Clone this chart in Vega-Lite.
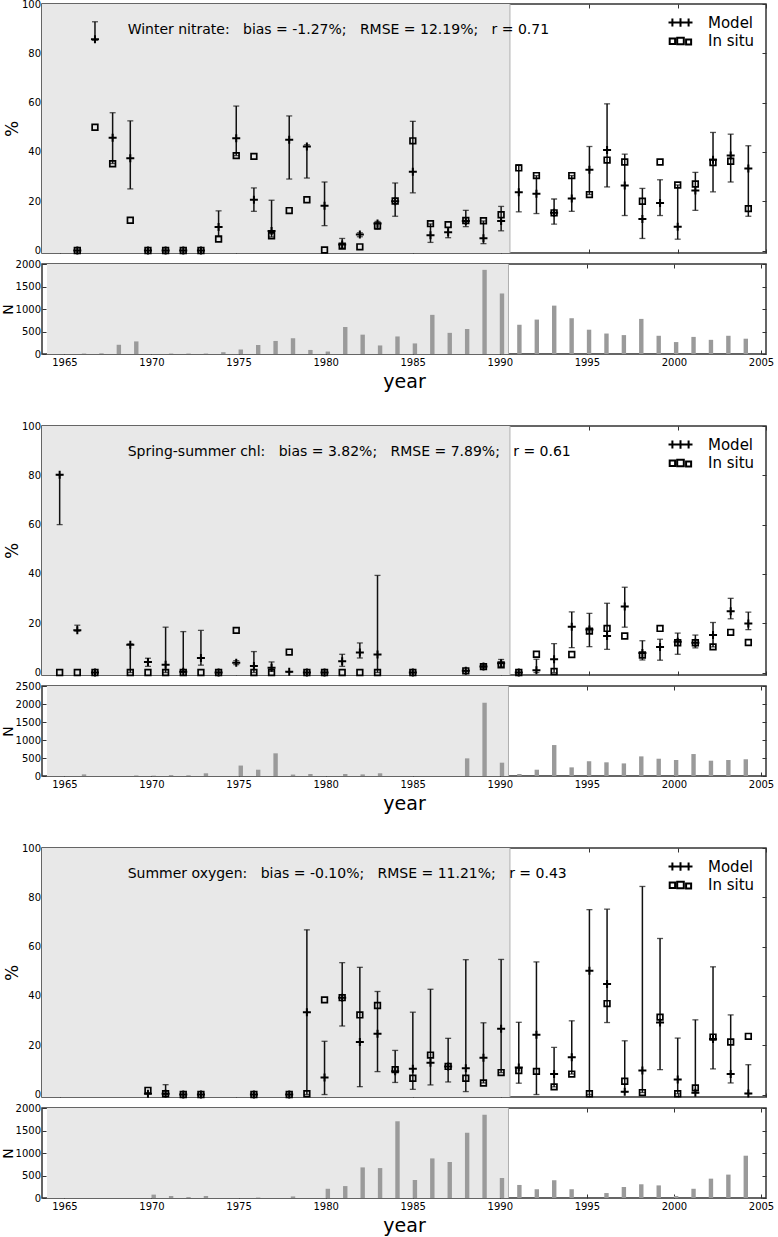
{
  "$schema": "https://vega.github.io/schema/vega-lite/v6.json",
  "padding": {"left": 0, "top": -2, "right": 0, "bottom": 0},
  "background": "white",
  "datasets": {
    "pct": [
      {"p":1,"year":1966,"Model":0,"In situ":0,"lo":0,"hi":0},
      {"p":1,"year":1967,"Model":85.7,"In situ":50.0,"lo":85.3,"hi":92.8},
      {"p":1,"year":1968,"Model":45.7,"In situ":35.2,"lo":35.3,"hi":55.9},
      {"p":1,"year":1969,"Model":37.4,"In situ":12.3,"lo":25.0,"hi":52.6},
      {"p":1,"year":1970,"Model":0,"In situ":0,"lo":0,"hi":0},
      {"p":1,"year":1971,"Model":0,"In situ":0,"lo":0,"hi":0},
      {"p":1,"year":1972,"Model":0,"In situ":0,"lo":0,"hi":0},
      {"p":1,"year":1973,"Model":0,"In situ":0,"lo":0,"hi":0},
      {"p":1,"year":1974,"Model":9.5,"In situ":4.7,"lo":5.5,"hi":16.1},
      {"p":1,"year":1975,"Model":45.5,"In situ":38.5,"lo":38.5,"hi":58.6},
      {"p":1,"year":1976,"Model":20.6,"In situ":38.2,"lo":15.9,"hi":25.4},
      {"p":1,"year":1977,"Model":7.9,"In situ":6.0,"lo":5.5,"hi":20.4},
      {"p":1,"year":1978,"Model":44.9,"In situ":16.2,"lo":29.0,"hi":54.6},
      {"p":1,"year":1979,"Model":42.2,"In situ":20.6,"lo":29.4,"hi":42.9},
      {"p":1,"year":1980,"Model":18.2,"In situ":0.2,"lo":10.1,"hi":27.8},
      {"p":1,"year":1981,"Model":2.4,"In situ":1.8,"lo":1.0,"hi":4.9},
      {"p":1,"year":1982,"Model":6.5,"In situ":1.5,"lo":5.6,"hi":7.2},
      {"p":1,"year":1983,"Model":11.0,"In situ":10.0,"lo":8.6,"hi":11.8},
      {"p":1,"year":1984,"Model":20.0,"In situ":20.1,"lo":13.9,"hi":27.4},
      {"p":1,"year":1985,"Model":32.0,"In situ":44.5,"lo":23.4,"hi":52.4},
      {"p":1,"year":1986,"Model":6.2,"In situ":10.9,"lo":3.3,"hi":10.8},
      {"p":1,"year":1987,"Model":7.4,"In situ":10.5,"lo":5.2,"hi":9.5},
      {"p":1,"year":1988,"Model":12.0,"In situ":12.2,"lo":9.7,"hi":16.3},
      {"p":1,"year":1989,"Model":5.0,"In situ":12.1,"lo":2.8,"hi":12.0},
      {"p":1,"year":1990,"Model":12.0,"In situ":14.5,"lo":8.0,"hi":17.9},
      {"p":1,"year":1991,"Model":23.6,"In situ":33.5,"lo":15.7,"hi":34.8},
      {"p":1,"year":1992,"Model":23.0,"In situ":30.4,"lo":15.0,"hi":30.4},
      {"p":1,"year":1993,"Model":15.3,"In situ":15.3,"lo":10.7,"hi":20.9},
      {"p":1,"year":1994,"Model":21.1,"In situ":30.4,"lo":15.9,"hi":30.4},
      {"p":1,"year":1995,"Model":32.8,"In situ":22.7,"lo":22.7,"hi":42.2},
      {"p":1,"year":1996,"Model":40.8,"In situ":36.7,"lo":25.8,"hi":59.5},
      {"p":1,"year":1997,"Model":26.4,"In situ":35.9,"lo":14.2,"hi":39.1},
      {"p":1,"year":1998,"Model":12.8,"In situ":20.0,"lo":4.9,"hi":25.2},
      {"p":1,"year":1999,"Model":19.3,"In situ":35.9,"lo":14.2,"hi":28.7},
      {"p":1,"year":2000,"Model":9.6,"In situ":26.6,"lo":4.6,"hi":26.6},
      {"p":1,"year":2001,"Model":24.4,"In situ":27.0,"lo":16.3,"hi":31.7},
      {"p":1,"year":2002,"Model":36.8,"In situ":35.7,"lo":23.8,"hi":47.9},
      {"p":1,"year":2003,"Model":38.5,"In situ":36.2,"lo":27.8,"hi":47.2},
      {"p":1,"year":2004,"Model":33.3,"In situ":17.0,"lo":13.9,"hi":42.5},
      {"p":2,"year":1965,"Model":80.2,"In situ":0,"lo":60.0,"hi":80.2},
      {"p":2,"year":1966,"Model":17.2,"In situ":0,"lo":16.8,"hi":19.2},
      {"p":2,"year":1967,"Model":0,"In situ":0,"lo":0,"hi":0},
      {"p":2,"year":1969,"Model":11.3,"In situ":0,"lo":0,"hi":11.6},
      {"p":2,"year":1970,"Model":4.3,"In situ":0,"lo":2.5,"hi":5.8},
      {"p":2,"year":1971,"Model":3.2,"In situ":0,"lo":0,"hi":18.4},
      {"p":2,"year":1972,"Model":0.3,"In situ":0,"lo":0,"hi":16.6},
      {"p":2,"year":1973,"Model":5.9,"In situ":0,"lo":3.0,"hi":17.1},
      {"p":2,"year":1974,"Model":0,"In situ":0,"lo":0,"hi":0},
      {"p":2,"year":1975,"Model":4.0,"In situ":17.1,"lo":3.2,"hi":4.8},
      {"p":2,"year":1976,"Model":2.7,"In situ":0,"lo":0,"hi":8.5},
      {"p":2,"year":1977,"Model":1.9,"In situ":0,"lo":0.5,"hi":4.3},
      {"p":2,"year":1978,"Model":0.3,"In situ":8.3,"lo":0.3,"hi":0.3},
      {"p":2,"year":1979,"Model":0,"In situ":0,"lo":0,"hi":0},
      {"p":2,"year":1980,"Model":0,"In situ":0,"lo":0,"hi":0},
      {"p":2,"year":1981,"Model":4.6,"In situ":0,"lo":2.5,"hi":7.4},
      {"p":2,"year":1982,"Model":8.1,"In situ":0,"lo":5.9,"hi":12.0},
      {"p":2,"year":1983,"Model":7.3,"In situ":0,"lo":0,"hi":39.4},
      {"p":2,"year":1985,"Model":0,"In situ":0,"lo":0,"hi":0},
      {"p":2,"year":1988,"Model":0.7,"In situ":0.7,"lo":0.7,"hi":0.7},
      {"p":2,"year":1989,"Model":2.4,"In situ":2.4,"lo":2.0,"hi":3.0},
      {"p":2,"year":1990,"Model":3.8,"In situ":3.1,"lo":2.5,"hi":5.3},
      {"p":2,"year":1991,"Model":0,"In situ":0,"lo":0,"hi":0},
      {"p":2,"year":1992,"Model":0.9,"In situ":7.4,"lo":0,"hi":5.4},
      {"p":2,"year":1993,"Model":5.4,"In situ":0.4,"lo":0,"hi":11.7},
      {"p":2,"year":1994,"Model":18.6,"In situ":7.3,"lo":10.1,"hi":24.6},
      {"p":2,"year":1995,"Model":17.5,"In situ":16.8,"lo":10.5,"hi":24.0},
      {"p":2,"year":1996,"Model":14.8,"In situ":17.9,"lo":9.4,"hi":28.1},
      {"p":2,"year":1997,"Model":26.8,"In situ":14.8,"lo":18.4,"hi":34.6},
      {"p":2,"year":1998,"Model":7.9,"In situ":7.1,"lo":5.1,"hi":12.9},
      {"p":2,"year":1999,"Model":10.4,"In situ":17.9,"lo":5.0,"hi":13.5},
      {"p":2,"year":2000,"Model":12.5,"In situ":12.1,"lo":7.4,"hi":16.0},
      {"p":2,"year":2001,"Model":12.1,"In situ":12.1,"lo":10.0,"hi":15.2},
      {"p":2,"year":2002,"Model":15.2,"In situ":10.4,"lo":10.4,"hi":20.3},
      {"p":2,"year":2003,"Model":24.9,"In situ":16.3,"lo":21.8,"hi":30.1},
      {"p":2,"year":2004,"Model":19.9,"In situ":12.2,"lo":17.4,"hi":24.5},
      {"p":3,"year":1970,"Model":0.3,"In situ":1.7,"lo":0.3,"hi":0.3},
      {"p":3,"year":1971,"Model":0.3,"In situ":0.3,"lo":0,"hi":4.0},
      {"p":3,"year":1972,"Model":0,"In situ":0,"lo":0,"hi":0},
      {"p":3,"year":1973,"Model":0,"In situ":0,"lo":0,"hi":0},
      {"p":3,"year":1976,"Model":0,"In situ":0,"lo":0,"hi":0},
      {"p":3,"year":1978,"Model":0,"In situ":0,"lo":0,"hi":0},
      {"p":3,"year":1979,"Model":33.4,"In situ":0.3,"lo":0,"hi":66.8},
      {"p":3,"year":1980,"Model":6.9,"In situ":38.4,"lo":0,"hi":21.6},
      {"p":3,"year":1981,"Model":39.3,"In situ":39.3,"lo":27.8,"hi":53.5},
      {"p":3,"year":1982,"Model":21.3,"In situ":32.3,"lo":3.2,"hi":51.6},
      {"p":3,"year":1983,"Model":24.7,"In situ":36.1,"lo":9.3,"hi":41.8},
      {"p":3,"year":1984,"Model":9.4,"In situ":10.1,"lo":4.9,"hi":17.9},
      {"p":3,"year":1985,"Model":10.5,"In situ":6.6,"lo":2.1,"hi":33.4},
      {"p":3,"year":1986,"Model":12.9,"In situ":16.0,"lo":3.9,"hi":42.7},
      {"p":3,"year":1987,"Model":11.4,"In situ":11.4,"lo":5.1,"hi":22.8},
      {"p":3,"year":1988,"Model":10.7,"In situ":6.6,"lo":1.2,"hi":54.7},
      {"p":3,"year":1989,"Model":14.9,"In situ":4.7,"lo":4.7,"hi":29.1},
      {"p":3,"year":1990,"Model":26.7,"In situ":8.9,"lo":8.9,"hi":54.8},
      {"p":3,"year":1991,"Model":11.0,"In situ":9.7,"lo":4.6,"hi":29.3},
      {"p":3,"year":1992,"Model":24.2,"In situ":9.4,"lo":0,"hi":53.8},
      {"p":3,"year":1993,"Model":8.3,"In situ":3.1,"lo":3.1,"hi":19.1},
      {"p":3,"year":1994,"Model":15.1,"In situ":8.3,"lo":8.3,"hi":29.9},
      {"p":3,"year":1995,"Model":50.2,"In situ":0.3,"lo":0,"hi":75.0},
      {"p":3,"year":1996,"Model":44.8,"In situ":36.9,"lo":29.2,"hi":75.2},
      {"p":3,"year":1997,"Model":1.1,"In situ":5.4,"lo":1.1,"hi":21.8},
      {"p":3,"year":1998,"Model":9.7,"In situ":0.8,"lo":0.8,"hi":84.4},
      {"p":3,"year":1999,"Model":29.2,"In situ":31.4,"lo":10.1,"hi":63.3},
      {"p":3,"year":2000,"Model":6.1,"In situ":0.3,"lo":0.3,"hi":22.9},
      {"p":3,"year":2001,"Model":0.7,"In situ":2.7,"lo":0.7,"hi":30.3},
      {"p":3,"year":2002,"Model":22.5,"In situ":23.3,"lo":10.4,"hi":51.8},
      {"p":3,"year":2003,"Model":8.3,"In situ":21.3,"lo":4.7,"hi":32.3},
      {"p":3,"year":2004,"Model":0.4,"In situ":23.6,"lo":0.4,"hi":12.1}
    ],
    "n": [
      {"p":1,"year":1966,"N":10},{"p":1,"year":1967,"N":15},{"p":1,"year":1968,"N":205},{"p":1,"year":1969,"N":280},
      {"p":1,"year":1971,"N":10},{"p":1,"year":1972,"N":10},{"p":1,"year":1973,"N":10},{"p":1,"year":1974,"N":40},
      {"p":1,"year":1975,"N":100},{"p":1,"year":1976,"N":200},{"p":1,"year":1977,"N":290},{"p":1,"year":1978,"N":350},
      {"p":1,"year":1979,"N":90},{"p":1,"year":1980,"N":55},{"p":1,"year":1981,"N":600},{"p":1,"year":1982,"N":430},
      {"p":1,"year":1983,"N":190},{"p":1,"year":1984,"N":390},{"p":1,"year":1985,"N":235},{"p":1,"year":1986,"N":870},
      {"p":1,"year":1987,"N":470},{"p":1,"year":1988,"N":555},{"p":1,"year":1989,"N":1870},{"p":1,"year":1990,"N":1345},
      {"p":1,"year":1991,"N":650},{"p":1,"year":1992,"N":765},{"p":1,"year":1993,"N":1075},{"p":1,"year":1994,"N":795},
      {"p":1,"year":1995,"N":540},{"p":1,"year":1996,"N":455},{"p":1,"year":1997,"N":420},{"p":1,"year":1998,"N":780},
      {"p":1,"year":1999,"N":405},{"p":1,"year":2000,"N":265},{"p":1,"year":2001,"N":380},{"p":1,"year":2002,"N":315},
      {"p":1,"year":2003,"N":405},{"p":1,"year":2004,"N":340},
      {"p":2,"year":1966,"N":45},{"p":2,"year":1969,"N":15},{"p":2,"year":1970,"N":10},{"p":2,"year":1971,"N":25},
      {"p":2,"year":1972,"N":20},{"p":2,"year":1973,"N":75},{"p":2,"year":1975,"N":290},{"p":2,"year":1976,"N":175},
      {"p":2,"year":1977,"N":630},{"p":2,"year":1978,"N":40},{"p":2,"year":1979,"N":55},{"p":2,"year":1981,"N":55},
      {"p":2,"year":1982,"N":45},{"p":2,"year":1983,"N":75},{"p":2,"year":1988,"N":490},{"p":2,"year":1989,"N":2035},
      {"p":2,"year":1990,"N":370},{"p":2,"year":1991,"N":55},{"p":2,"year":1992,"N":175},{"p":2,"year":1993,"N":860},
      {"p":2,"year":1994,"N":240},{"p":2,"year":1995,"N":410},{"p":2,"year":1996,"N":380},{"p":2,"year":1997,"N":350},
      {"p":2,"year":1998,"N":545},{"p":2,"year":1999,"N":480},{"p":2,"year":2000,"N":445},{"p":2,"year":2001,"N":610},
      {"p":2,"year":2002,"N":425},{"p":2,"year":2003,"N":445},{"p":2,"year":2004,"N":465},
      {"p":3,"year":1970,"N":75},{"p":3,"year":1971,"N":45},{"p":3,"year":1972,"N":20},{"p":3,"year":1973,"N":45},
      {"p":3,"year":1976,"N":10},{"p":3,"year":1978,"N":35},{"p":3,"year":1980,"N":205},{"p":3,"year":1981,"N":265},
      {"p":3,"year":1982,"N":680},{"p":3,"year":1983,"N":665},{"p":3,"year":1984,"N":1705},{"p":3,"year":1985,"N":400},
      {"p":3,"year":1986,"N":880},{"p":3,"year":1987,"N":800},{"p":3,"year":1988,"N":1450},{"p":3,"year":1989,"N":1850},
      {"p":3,"year":1990,"N":445},{"p":3,"year":1991,"N":290},{"p":3,"year":1992,"N":195},{"p":3,"year":1993,"N":395},
      {"p":3,"year":1994,"N":195},{"p":3,"year":1996,"N":110},{"p":3,"year":1997,"N":245},{"p":3,"year":1998,"N":305},
      {"p":3,"year":1999,"N":280},{"p":3,"year":2000,"N":45},{"p":3,"year":2001,"N":205},{"p":3,"year":2002,"N":430},
      {"p":3,"year":2003,"N":520},{"p":3,"year":2004,"N":940}
    ]
  },
  "spacing": 28,
  "resolve": {"scale": {"shape": "independent"}, "legend": {"shape": "independent"}},
  "vconcat": [
    {
      "spacing": -2,
      "resolve": {"scale": {"shape": "independent"}, "legend": {"shape": "independent"}},
      "vconcat": [
        {
          "width": 724, "height": 249,
          "resolve": {"axis": {"x": "independent", "y": "independent"}},
          "layer": [
            {"data": {"values": [{}]}, "mark": {"type": "rect", "color": "#e8e8e8"},
             "encoding": {"x": {"datum": 1964, "type": "quantitative", "scale": {"domain": [1964, 2005], "nice": false, "zero": false}, "axis": null}, "x2": {"datum": 1990.5}, "y": {"value": 0}, "y2": {"value": "height"}}},
            {"data": {"values": [{}]}, "mark": {"type": "rule", "color": "#b0b0b0", "strokeWidth": 1},
             "encoding": {"x": {"datum": 1990.5, "type": "quantitative", "axis": null}}},
            {"data": {"name": "pct"}, "transform": [{"filter": "datum.p == 1"}],
             "mark": {"type": "rule", "color": "#111", "strokeWidth": 1.5},
             "encoding": {
               "x": {"field": "year", "type": "quantitative", "axis": {"orient": "bottom", "values": [1965,1970,1975,1980,1985,1990,1995,2000,2005], "labels": false, "title": null}},
               "y": {"field": "lo", "type": "quantitative", "scale": {"domain": [-1, 100], "nice": false, "zero": false}, "axis": {"orient": "left", "values": [0,20,40,60,80,100], "title": "%"}},
               "y2": {"field": "hi"}}},
            {"data": {"name": "pct"}, "transform": [{"filter": "datum.p == 1"}],
             "mark": {"type": "tick", "orient": "horizontal", "color": "#111", "size": 6, "thickness": 1.3},
             "encoding": {"x": {"field": "year", "type": "quantitative", "axis": null}, "y": {"field": "lo", "type": "quantitative", "axis": null}}},
            {"data": {"name": "pct"}, "transform": [{"filter": "datum.p == 1"}],
             "mark": {"type": "tick", "orient": "horizontal", "color": "#111", "size": 6, "thickness": 1.3},
             "encoding": {"x": {"field": "year", "type": "quantitative", "axis": {"orient": "top", "values": [1965,1970,1975,1980,1985,1990,1995,2000,2005], "labels": false, "title": null}},
                          "y": {"field": "hi", "type": "quantitative", "axis": {"orient": "right", "values": [0,20,40,60,80,100], "labels": false, "title": null}}}},
            {"data": {"name": "pct"}, "transform": [{"filter": "datum.p == 1"}],
             "mark": {"type": "point", "shape": "square", "filled": false, "color": "#000", "strokeWidth": 1.7, "size": 32, "opacity": 1},
             "encoding": {"x": {"field": "year", "type": "quantitative", "axis": null}, "y": {"field": "In situ", "type": "quantitative", "axis": null}}},
            {"data": {"name": "pct"}, "transform": [{"filter": "datum.p == 1"}],
             "mark": {"type": "point", "shape": "M-1,0L1,0M0,-1L0,1", "filled": false, "color": "#000", "strokeWidth": 2, "size": 64, "opacity": 1},
             "encoding": {"x": {"field": "year", "type": "quantitative", "axis": null}, "y": {"field": "Model", "type": "quantitative", "axis": null}}},
            {"data": {"name": "pct"}, "transform": [{"filter": "datum.p == 1"}, {"fold": ["Model", "In situ"], "as": ["series", "val"]}],
             "mark": {"type": "point", "filled": false, "color": "#000", "strokeWidth": 2, "size": 0},
             "encoding": {
               "x": {"field": "year", "type": "quantitative", "axis": null},
               "y": {"field": "val", "type": "quantitative", "axis": null},
               "shape": {"field": "series", "type": "nominal",
                 "scale": {"domain": ["Model", "In situ"], "range": ["M-2.0,0L-0.7,0M-1.35,-0.65L-1.35,0.65M-0.7,0L0.7,0M0,-0.7L0,0.7M0.7,0L2.0,0M1.35,-0.65L1.35,0.65", "M-1.8,-0.4L-0.9,-0.4L-0.9,0.5L-1.8,0.5ZM-0.55,-0.55L0.55,-0.55L0.55,0.55L-0.55,0.55ZM0.93,-0.27L1.77,-0.27L1.77,0.57L0.93,0.57Z"]},
                 "legend": {"title": null, "orient": "top-right", "offset": 11, "symbolSize": 144, "labelFontSize": 15, "labelFont": "DejaVu Sans", "labelOffset": 20, "rowPadding": 2.5, "symbolStrokeWidth": 2, "symbolStrokeColor": "#000", "symbolFillColor": "transparent", "symbolOpacity": 1}}}},
            {"data": {"values": [{}]},
             "mark": {"type": "text", "align": "left", "baseline": "middle", "font": "DejaVu Sans", "fontSize": 14, "color": "#000",
                      "text": "Winter nitrate:\u00a0\u00a0 bias = -1.27%;\u00a0\u00a0 RMSE = 12.19%;\u00a0\u00a0 r = 0.71"},
             "encoding": {"x": {"datum": 1968.85, "type": "quantitative", "axis": null}, "y": {"datum": 89.3, "type": "quantitative", "axis": null}}}
          ]
        },
        {
          "width": 724, "height": 90,
          "resolve": {"axis": {"x": "independent", "y": "independent"}},
          "layer": [
            {"data": {"values": [{}]}, "mark": {"type": "rect", "color": "#e8e8e8"},
             "encoding": {"x": {"datum": 1964, "type": "quantitative", "scale": {"domain": [1964, 2005], "nice": false, "zero": false}, "axis": null}, "x2": {"datum": 1990.5}, "y": {"value": 0}, "y2": {"value": "height"}}},
            {"data": {"values": [{}]}, "mark": {"type": "rule", "color": "#b0b0b0", "strokeWidth": 1},
             "encoding": {"x": {"datum": 1990.5, "type": "quantitative", "axis": null}}},
            {"data": {"name": "n"}, "transform": [{"filter": "datum.p == 1"}],
             "mark": {"type": "bar", "color": "#9a9a9a", "width": 4.4, "xOffset": 2.2},
             "encoding": {
               "x": {"field": "year", "type": "quantitative", "axis": {"orient": "bottom", "values": [1965,1970,1975,1980,1985,1990,1995,2000,2005], "format": "d", "title": "year", "titleFontSize": 19, "titlePadding": 5}},
               "y": {"field": "N", "type": "quantitative", "scale": {"domain": [0, 2000], "nice": false}, "axis": {"orient": "left", "values": [0,500,1000,1500,2000], "format": "d", "title": "N", "titleFontSize": 14}}}},
            {"data": {"name": "n"}, "transform": [{"filter": "datum.p == 1"}],
             "mark": {"type": "bar", "color": "#9a9a9a", "width": 4.4, "xOffset": 2.2, "opacity": 0},
             "encoding": {
               "x": {"field": "year", "type": "quantitative", "axis": {"orient": "top", "values": [1965,1970,1975,1980,1985,1990,1995,2000,2005], "labels": false, "title": null}},
               "y": {"field": "N", "type": "quantitative", "axis": {"orient": "right", "values": [0,500,1000,1500,2000], "labels": false, "title": null}}}}
          ]
        }
      ]
    },
    {
      "spacing": -2,
      "resolve": {"scale": {"shape": "independent"}, "legend": {"shape": "independent"}},
      "vconcat": [
        {
          "width": 724, "height": 249,
          "resolve": {"axis": {"x": "independent", "y": "independent"}},
          "layer": [
            {"data": {"values": [{}]}, "mark": {"type": "rect", "color": "#e8e8e8"},
             "encoding": {"x": {"datum": 1964, "type": "quantitative", "scale": {"domain": [1964, 2005], "nice": false, "zero": false}, "axis": null}, "x2": {"datum": 1990.5}, "y": {"value": 0}, "y2": {"value": "height"}}},
            {"data": {"values": [{}]}, "mark": {"type": "rule", "color": "#b0b0b0", "strokeWidth": 1},
             "encoding": {"x": {"datum": 1990.5, "type": "quantitative", "axis": null}}},
            {"data": {"name": "pct"}, "transform": [{"filter": "datum.p == 2"}],
             "mark": {"type": "rule", "color": "#111", "strokeWidth": 1.5},
             "encoding": {
               "x": {"field": "year", "type": "quantitative", "axis": {"orient": "bottom", "values": [1965,1970,1975,1980,1985,1990,1995,2000,2005], "labels": false, "title": null}},
               "y": {"field": "lo", "type": "quantitative", "scale": {"domain": [-1, 100], "nice": false, "zero": false}, "axis": {"orient": "left", "values": [0,20,40,60,80,100], "title": "%"}},
               "y2": {"field": "hi"}}},
            {"data": {"name": "pct"}, "transform": [{"filter": "datum.p == 2"}],
             "mark": {"type": "tick", "orient": "horizontal", "color": "#111", "size": 6, "thickness": 1.3},
             "encoding": {"x": {"field": "year", "type": "quantitative", "axis": null}, "y": {"field": "lo", "type": "quantitative", "axis": null}}},
            {"data": {"name": "pct"}, "transform": [{"filter": "datum.p == 2"}],
             "mark": {"type": "tick", "orient": "horizontal", "color": "#111", "size": 6, "thickness": 1.3},
             "encoding": {"x": {"field": "year", "type": "quantitative", "axis": {"orient": "top", "values": [1965,1970,1975,1980,1985,1990,1995,2000,2005], "labels": false, "title": null}},
                          "y": {"field": "hi", "type": "quantitative", "axis": {"orient": "right", "values": [0,20,40,60,80,100], "labels": false, "title": null}}}},
            {"data": {"name": "pct"}, "transform": [{"filter": "datum.p == 2"}],
             "mark": {"type": "point", "shape": "square", "filled": false, "color": "#000", "strokeWidth": 1.7, "size": 32, "opacity": 1},
             "encoding": {"x": {"field": "year", "type": "quantitative", "axis": null}, "y": {"field": "In situ", "type": "quantitative", "axis": null}}},
            {"data": {"name": "pct"}, "transform": [{"filter": "datum.p == 2"}],
             "mark": {"type": "point", "shape": "M-1,0L1,0M0,-1L0,1", "filled": false, "color": "#000", "strokeWidth": 2, "size": 64, "opacity": 1},
             "encoding": {"x": {"field": "year", "type": "quantitative", "axis": null}, "y": {"field": "Model", "type": "quantitative", "axis": null}}},
            {"data": {"name": "pct"}, "transform": [{"filter": "datum.p == 2"}, {"fold": ["Model", "In situ"], "as": ["series", "val"]}],
             "mark": {"type": "point", "filled": false, "color": "#000", "strokeWidth": 2, "size": 0},
             "encoding": {
               "x": {"field": "year", "type": "quantitative", "axis": null},
               "y": {"field": "val", "type": "quantitative", "axis": null},
               "shape": {"field": "series", "type": "nominal",
                 "scale": {"domain": ["Model", "In situ"], "range": ["M-2.0,0L-0.7,0M-1.35,-0.65L-1.35,0.65M-0.7,0L0.7,0M0,-0.7L0,0.7M0.7,0L2.0,0M1.35,-0.65L1.35,0.65", "M-1.8,-0.4L-0.9,-0.4L-0.9,0.5L-1.8,0.5ZM-0.55,-0.55L0.55,-0.55L0.55,0.55L-0.55,0.55ZM0.93,-0.27L1.77,-0.27L1.77,0.57L0.93,0.57Z"]},
                 "legend": {"title": null, "orient": "top-right", "offset": 11, "symbolSize": 144, "labelFontSize": 15, "labelFont": "DejaVu Sans", "labelOffset": 20, "rowPadding": 2.5, "symbolStrokeWidth": 2, "symbolStrokeColor": "#000", "symbolFillColor": "transparent", "symbolOpacity": 1}}}},
            {"data": {"values": [{}]},
             "mark": {"type": "text", "align": "left", "baseline": "middle", "font": "DejaVu Sans", "fontSize": 14, "color": "#000",
                      "text": "Spring-summer chl:\u00a0\u00a0 bias = 3.82%;\u00a0\u00a0 RMSE = 7.89%;\u00a0\u00a0 r = 0.61"},
             "encoding": {"x": {"datum": 1968.85, "type": "quantitative", "axis": null}, "y": {"datum": 89.3, "type": "quantitative", "axis": null}}}
          ]
        },
        {
          "width": 724, "height": 90,
          "resolve": {"axis": {"x": "independent", "y": "independent"}},
          "layer": [
            {"data": {"values": [{}]}, "mark": {"type": "rect", "color": "#e8e8e8"},
             "encoding": {"x": {"datum": 1964, "type": "quantitative", "scale": {"domain": [1964, 2005], "nice": false, "zero": false}, "axis": null}, "x2": {"datum": 1990.5}, "y": {"value": 0}, "y2": {"value": "height"}}},
            {"data": {"values": [{}]}, "mark": {"type": "rule", "color": "#b0b0b0", "strokeWidth": 1},
             "encoding": {"x": {"datum": 1990.5, "type": "quantitative", "axis": null}}},
            {"data": {"name": "n"}, "transform": [{"filter": "datum.p == 2"}],
             "mark": {"type": "bar", "color": "#9a9a9a", "width": 4.4, "xOffset": 2.2},
             "encoding": {
               "x": {"field": "year", "type": "quantitative", "axis": {"orient": "bottom", "values": [1965,1970,1975,1980,1985,1990,1995,2000,2005], "format": "d", "title": "year", "titleFontSize": 19, "titlePadding": 5}},
               "y": {"field": "N", "type": "quantitative", "scale": {"domain": [0, 2500], "nice": false}, "axis": {"orient": "left", "values": [0,500,1000,1500,2000,2500], "format": "d", "title": "N", "titleFontSize": 14}}}},
            {"data": {"name": "n"}, "transform": [{"filter": "datum.p == 2"}],
             "mark": {"type": "bar", "color": "#9a9a9a", "width": 4.4, "xOffset": 2.2, "opacity": 0},
             "encoding": {
               "x": {"field": "year", "type": "quantitative", "axis": {"orient": "top", "values": [1965,1970,1975,1980,1985,1990,1995,2000,2005], "labels": false, "title": null}},
               "y": {"field": "N", "type": "quantitative", "axis": {"orient": "right", "values": [0,500,1000,1500,2000,2500], "labels": false, "title": null}}}}
          ]
        }
      ]
    },
    {
      "spacing": -2,
      "resolve": {"scale": {"shape": "independent"}, "legend": {"shape": "independent"}},
      "vconcat": [
        {
          "width": 724, "height": 249,
          "resolve": {"axis": {"x": "independent", "y": "independent"}},
          "layer": [
            {"data": {"values": [{}]}, "mark": {"type": "rect", "color": "#e8e8e8"},
             "encoding": {"x": {"datum": 1964, "type": "quantitative", "scale": {"domain": [1964, 2005], "nice": false, "zero": false}, "axis": null}, "x2": {"datum": 1990.5}, "y": {"value": 0}, "y2": {"value": "height"}}},
            {"data": {"values": [{}]}, "mark": {"type": "rule", "color": "#b0b0b0", "strokeWidth": 1},
             "encoding": {"x": {"datum": 1990.5, "type": "quantitative", "axis": null}}},
            {"data": {"name": "pct"}, "transform": [{"filter": "datum.p == 3"}],
             "mark": {"type": "rule", "color": "#111", "strokeWidth": 1.5},
             "encoding": {
               "x": {"field": "year", "type": "quantitative", "axis": {"orient": "bottom", "values": [1965,1970,1975,1980,1985,1990,1995,2000,2005], "labels": false, "title": null}},
               "y": {"field": "lo", "type": "quantitative", "scale": {"domain": [-1, 100], "nice": false, "zero": false}, "axis": {"orient": "left", "values": [0,20,40,60,80,100], "title": "%"}},
               "y2": {"field": "hi"}}},
            {"data": {"name": "pct"}, "transform": [{"filter": "datum.p == 3"}],
             "mark": {"type": "tick", "orient": "horizontal", "color": "#111", "size": 6, "thickness": 1.3},
             "encoding": {"x": {"field": "year", "type": "quantitative", "axis": null}, "y": {"field": "lo", "type": "quantitative", "axis": null}}},
            {"data": {"name": "pct"}, "transform": [{"filter": "datum.p == 3"}],
             "mark": {"type": "tick", "orient": "horizontal", "color": "#111", "size": 6, "thickness": 1.3},
             "encoding": {"x": {"field": "year", "type": "quantitative", "axis": {"orient": "top", "values": [1965,1970,1975,1980,1985,1990,1995,2000,2005], "labels": false, "title": null}},
                          "y": {"field": "hi", "type": "quantitative", "axis": {"orient": "right", "values": [0,20,40,60,80,100], "labels": false, "title": null}}}},
            {"data": {"name": "pct"}, "transform": [{"filter": "datum.p == 3"}],
             "mark": {"type": "point", "shape": "square", "filled": false, "color": "#000", "strokeWidth": 1.7, "size": 32, "opacity": 1},
             "encoding": {"x": {"field": "year", "type": "quantitative", "axis": null}, "y": {"field": "In situ", "type": "quantitative", "axis": null}}},
            {"data": {"name": "pct"}, "transform": [{"filter": "datum.p == 3"}],
             "mark": {"type": "point", "shape": "M-1,0L1,0M0,-1L0,1", "filled": false, "color": "#000", "strokeWidth": 2, "size": 64, "opacity": 1},
             "encoding": {"x": {"field": "year", "type": "quantitative", "axis": null}, "y": {"field": "Model", "type": "quantitative", "axis": null}}},
            {"data": {"name": "pct"}, "transform": [{"filter": "datum.p == 3"}, {"fold": ["Model", "In situ"], "as": ["series", "val"]}],
             "mark": {"type": "point", "filled": false, "color": "#000", "strokeWidth": 2, "size": 0},
             "encoding": {
               "x": {"field": "year", "type": "quantitative", "axis": null},
               "y": {"field": "val", "type": "quantitative", "axis": null},
               "shape": {"field": "series", "type": "nominal",
                 "scale": {"domain": ["Model", "In situ"], "range": ["M-2.0,0L-0.7,0M-1.35,-0.65L-1.35,0.65M-0.7,0L0.7,0M0,-0.7L0,0.7M0.7,0L2.0,0M1.35,-0.65L1.35,0.65", "M-1.8,-0.4L-0.9,-0.4L-0.9,0.5L-1.8,0.5ZM-0.55,-0.55L0.55,-0.55L0.55,0.55L-0.55,0.55ZM0.93,-0.27L1.77,-0.27L1.77,0.57L0.93,0.57Z"]},
                 "legend": {"title": null, "orient": "top-right", "offset": 11, "symbolSize": 144, "labelFontSize": 15, "labelFont": "DejaVu Sans", "labelOffset": 20, "rowPadding": 2.5, "symbolStrokeWidth": 2, "symbolStrokeColor": "#000", "symbolFillColor": "transparent", "symbolOpacity": 1}}}},
            {"data": {"values": [{}]},
             "mark": {"type": "text", "align": "left", "baseline": "middle", "font": "DejaVu Sans", "fontSize": 14, "color": "#000",
                      "text": "Summer oxygen:\u00a0\u00a0 bias = -0.10%;\u00a0\u00a0 RMSE = 11.21%;\u00a0\u00a0 r = 0.43"},
             "encoding": {"x": {"datum": 1968.85, "type": "quantitative", "axis": null}, "y": {"datum": 89.3, "type": "quantitative", "axis": null}}}
          ]
        },
        {
          "width": 724, "height": 90,
          "resolve": {"axis": {"x": "independent", "y": "independent"}},
          "layer": [
            {"data": {"values": [{}]}, "mark": {"type": "rect", "color": "#e8e8e8"},
             "encoding": {"x": {"datum": 1964, "type": "quantitative", "scale": {"domain": [1964, 2005], "nice": false, "zero": false}, "axis": null}, "x2": {"datum": 1990.5}, "y": {"value": 0}, "y2": {"value": "height"}}},
            {"data": {"values": [{}]}, "mark": {"type": "rule", "color": "#b0b0b0", "strokeWidth": 1},
             "encoding": {"x": {"datum": 1990.5, "type": "quantitative", "axis": null}}},
            {"data": {"name": "n"}, "transform": [{"filter": "datum.p == 3"}],
             "mark": {"type": "bar", "color": "#9a9a9a", "width": 4.4, "xOffset": 2.2},
             "encoding": {
               "x": {"field": "year", "type": "quantitative", "axis": {"orient": "bottom", "values": [1965,1970,1975,1980,1985,1990,1995,2000,2005], "format": "d", "title": "year", "titleFontSize": 19, "titlePadding": 5}},
               "y": {"field": "N", "type": "quantitative", "scale": {"domain": [0, 2000], "nice": false}, "axis": {"orient": "left", "values": [0,500,1000,1500,2000], "format": "d", "title": "N", "titleFontSize": 14}}}},
            {"data": {"name": "n"}, "transform": [{"filter": "datum.p == 3"}],
             "mark": {"type": "bar", "color": "#9a9a9a", "width": 4.4, "xOffset": 2.2, "opacity": 0},
             "encoding": {
               "x": {"field": "year", "type": "quantitative", "axis": {"orient": "top", "values": [1965,1970,1975,1980,1985,1990,1995,2000,2005], "labels": false, "title": null}},
               "y": {"field": "N", "type": "quantitative", "axis": {"orient": "right", "values": [0,500,1000,1500,2000], "labels": false, "title": null}}}}
          ]
        }
      ]
    }
  ],
  "config": {
    "view": {"stroke": "#333", "strokeWidth": 1.5},
    "axis": {"grid": false, "domain": false, "labelFont": "DejaVu Sans", "labelFontSize": 10, "labelColor": "#000",
             "labelFlush": false, "labelOverlap": false, "tickColor": "#333", "tickSize": -4, "tickWidth": 1, "labelPadding": 7, "minExtent": 0,
             "titleFont": "DejaVu Sans", "titleFontWeight": "normal", "titleColor": "#000", "titleFontSize": 17, "titlePadding": 0},
    "axisY": {"labelPadding": 5.5}
  }
}
